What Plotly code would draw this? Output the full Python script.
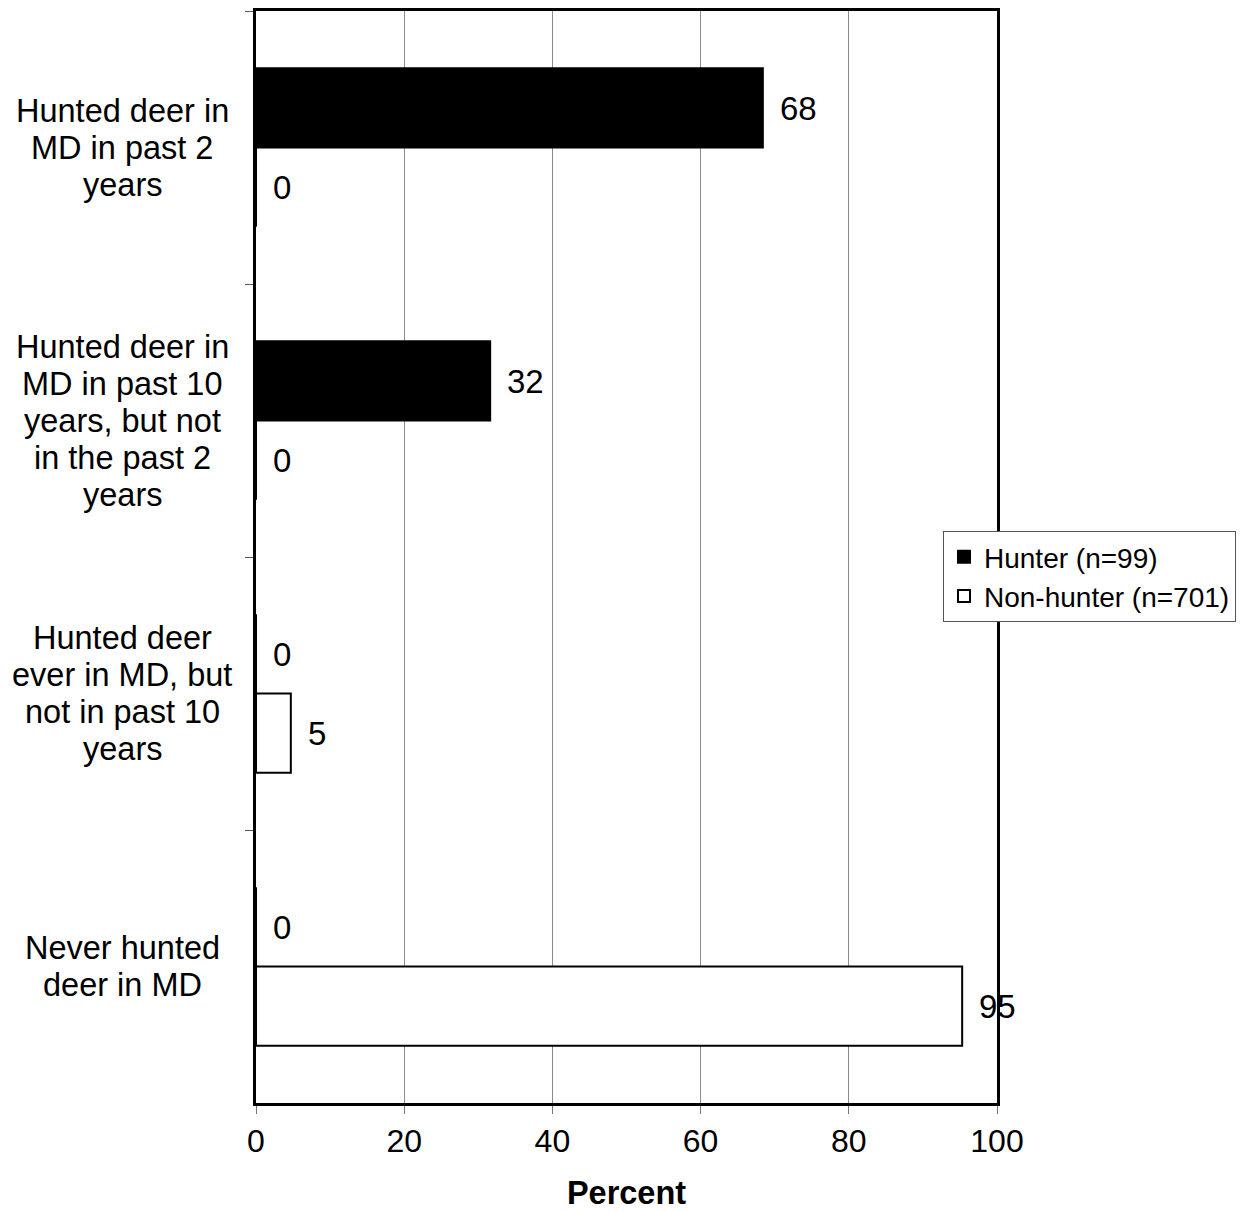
import plotly.graph_objects as go

categories = [
    "Hunted deer in<br>MD in past 2<br>years",
    "Hunted deer in<br>MD in past 10<br>years, but not<br>in the past 2<br>years",
    "Hunted deer<br>ever in MD, but<br>not in past 10<br>years",
    "Never hunted<br>deer in MD",
]
hunter = [68.4, 31.6, 0, 0]
nonhunter = [0, 0, 4.7, 95.3]
series_names = ["Hunter (n=99)", "Non-hunter (n=701)"]
x_ticks = [0, 20, 40, 60, 80, 100]

FONT = "Liberation Sans, Arial, sans-serif"
OFF = 8  # page body margin
W, H = 1246 - OFF, 1211 - OFF
ML = 256 - OFF
MT = 11 - OFF
MR = W - (997 - OFF)
MB = H - (1103 - OFF)

fig = go.Figure()
fig.add_trace(go.Bar(
    y=categories, x=hunter, orientation="h", name=series_names[0],
    marker=dict(color="black", line=dict(color="black", width=2)),
))
fig.add_trace(go.Bar(
    y=categories, x=nonhunter, orientation="h", name=series_names[1],
    marker=dict(color="white", line=dict(color="black", width=2)),
))

ann = []
# data labels
for vals, ys in ((hunter, 39.5), (nonhunter, -39.5)):
    for c, v in zip(categories, vals):
        ann.append(dict(x=v, y=c, xref="x", yref="y", text=f"{v:.0f}",
                        showarrow=False, xanchor="left", yanchor="middle",
                        xshift=15, yshift=ys,
                        font=dict(family=FONT, size=33, color="black")))
# category labels (centered multi-line)
plot_w = W - ML - MR
label_x = (122 - 256) / plot_w
LINE = 37
for c in categories:
    lines = c.split("<br>")
    n = len(lines)
    for i, ln in enumerate(lines):
        ann.append(dict(x=label_x, y=c, xref="paper", yref="y", text=ln,
                        showarrow=False, xanchor="center", yanchor="middle",
                        yshift=((n - 1) / 2 - i) * LINE,
                        font=dict(family=FONT, size=32.5, color="black")))

fig.update_layout(
    width=W, height=H,
    margin=dict(l=ML, r=MR, t=MT, b=MB, pad=0),
    paper_bgcolor="white", plot_bgcolor="white",
    barmode="group", bargap=0.42, bargroupgap=0,
    font=dict(family=FONT, size=32, color="black"),
    annotations=ann,
    legend=dict(
        x=(943 - 256) / plot_w, y=1 - (531 - 11) / (1103 - 11),
        xanchor="left", yanchor="top", traceorder="normal",
        bgcolor="white", bordercolor="#555", borderwidth=1,
        font=dict(family=FONT, size=28, color="black"),
        itemwidth=30, tracegroupgap=0,
    ),
    showlegend=True,
)
fig.update_xaxes(
    range=[0, 100], tickvals=x_ticks, ticks="outside", ticklen=8,
    tickcolor="#777", tickfont=dict(family=FONT, size=32, color="black"),
    showgrid=True, gridcolor="#8c8c8c", gridwidth=1,
    showline=True, linecolor="black", linewidth=3, mirror=True,
    zeroline=False, automargin=False,
    title=dict(text="<b>Percent</b>", font=dict(family=FONT, size=32.5, color="black"), standoff=29),
)
fig.update_yaxes(
    autorange="reversed", showticklabels=False, ticks="outside", ticklen=8,
    tickson="boundaries", tickcolor="#555",
    showline=True, linecolor="black", linewidth=3, mirror=True,
    showgrid=False, zeroline=False,
)

fig.write_html("out.html")
